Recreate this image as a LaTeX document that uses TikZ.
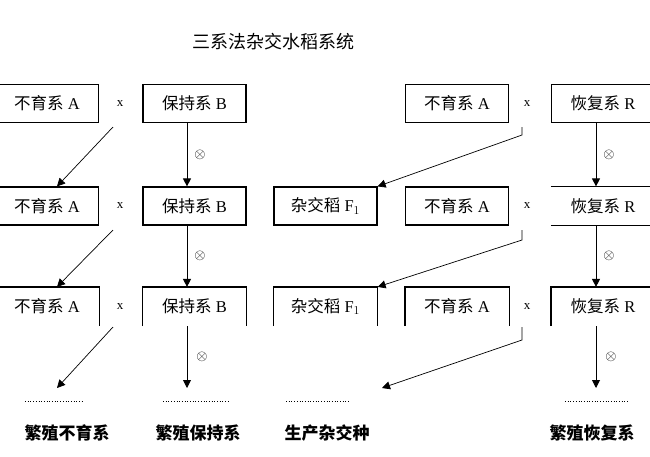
\documentclass[tikz,border=0pt]{standalone}
\usepackage{fontspec}
\setmainfont{Liberation Serif}
\newfontfamily\cjk{Noto Sans CJK SC}
\usetikzlibrary{arrows.meta}

\begin{document}
\begin{tikzpicture}[x=1pt,y=-1pt,
    box/.style={minimum width=103pt,minimum height=38pt,inner sep=0pt,
      line width=1.2pt,font=\fontsize{16.5}{16.5}\selectfont},
    cross/.style={inner sep=1pt,font=\fontsize{13}{13}\selectfont},
    selfed/.style={inner sep=1pt,font=\fontsize{15}{15}\selectfont},
    arr/.style={-{Triangle[length=8pt,width=8pt]},line width=0.9pt},
    result/.style={font=\cjk\bfseries\fontsize{17}{17}\selectfont}]

  \useasboundingbox (0,0) rectangle (650,456);
  \clip (0,0) rectangle (650,456);

  \node[font=\cjk\fontsize{18}{18}\selectfont] (title) at (273,42) {三系法杂交水稻系统};

  % rows of lines
  \node[box,draw] (a1) at (47,103.5) {{\cjk 不育系} A};
  \node[box,draw] (b1) at (194.5,103.5) {{\cjk 保持系} B};
  \node[box,draw] (c1) at (457,103.5) {{\cjk 不育系} A};
  \node[box,draw] (r1) at (603,103.5) {{\cjk 恢复系} R};

  \node[box,draw] (a2) at (47,206) {{\cjk 不育系} A};
  \node[box,draw] (b2) at (194.5,206) {{\cjk 保持系} B};
  \node[box,draw] (f2) at (325.5,206) {{\cjk 杂交稻} F$_1$};
  \node[box,draw] (c2) at (457,206) {{\cjk 不育系} A};
  \node[box] (r2) at (603,206) {{\cjk 恢复系} R};
  \draw[line width=1.2pt] (r2.north west) -- (r2.north east)
    (r2.south west) -- (r2.south east);

  \node[box] (a3) at (47,306.5) {{\cjk 不育系} A};
  \node[box] (b3) at (194.5,306.5) {{\cjk 保持系} B};
  \node[box] (f3) at (325.5,306.5) {{\cjk 杂交稻} F$_1$};
  \node[box] (c3) at (457,306.5) {{\cjk 不育系} A};
  \node[box] (r3) at (603,306.5) {{\cjk 恢复系} R};
  \foreach \n in {a3,b3,f3,c3,r3}
    \draw[line width=1.2pt] (\n.south west) |- (\n.north east) -- (\n.south east);

  \foreach \y/\i in {103.5/1,206/2,306.5/3} {
    \node[cross] (xl\i) at (120,\y) {x};
    \node[cross] (xr\i) at (527,\y) {x};
  }

  % selfing
  \draw[arr] (b1.south -| 187,0) -- node[selfed,right=6pt] {$\otimes$} (b2.north -| 187,0);
  \draw[arr] (b2.south -| 187,0) -- node[selfed,right=6pt] {$\otimes$} (b3.north -| 187,0);
  \draw[arr] (r1.south -| 596,0) -- node[selfed,right=6pt] {$\otimes$} (r2.north -| 596,0);
  \draw[arr] (r2.south -| 596,0) -- node[selfed,right=6pt] {$\otimes$} (r3.north -| 596,0);

  % results
  \node[result] (ra) at (67,433) {繁殖不育系};
  \node[result] (rb) at (198,433) {繁殖保持系};
  \node[result] (rf) at (327,433) {生产杂交种};
  \node[result] (rr) at (592,433) {繁殖恢复系};
  \draw[dotted,line width=0.7pt] (25,401) -- (83,401);
  \draw[dotted,line width=0.7pt] (163,401) -- (228,401);
  \draw[dotted,line width=0.7pt] (286,401) -- (350,401);
  \draw[dotted,line width=0.7pt] (565,401) -- (628,401);

  \coordinate (ea) at (57,388);
  \coordinate (eb) at (187,388);
  \coordinate (ef) at (382,388);
  \coordinate (er) at (596,388);
  \draw[arr] (b3.south -| 187,0) -- node[selfed,right=8pt] {$\otimes$} (eb);
  \draw[arr] (r3.south -| 596,0) -- node[selfed,right=8pt] {$\otimes$} (er);

  % crosses
  \coordinate (sl1) at (113,127);
  \coordinate (sl2) at (113,230);
  \coordinate (sl3) at (113,327);
  \draw[arr,line width=0.7pt] (sl1) -- ([xshift=10pt]a2.north);
  \draw[arr,line width=0.7pt] (sl2) -- ([xshift=10pt]a3.north);
  \draw[arr,line width=0.7pt] (sl3) -- (ea);

  \coordinate (sr1) at (522,127);
  \coordinate (sr2) at (522,230);
  \coordinate (sr3) at (522,327);
  \draw[arr,line width=0.7pt] (sr1) -- ++(0,8) -- (f2.north east);
  \draw[arr,line width=0.7pt] (sr2) -- ++(0,10) -- (f3.north east);
  \draw[arr,line width=0.7pt] (sr3) -- ++(0,13) -- (ef);

\end{tikzpicture}
\end{document}
